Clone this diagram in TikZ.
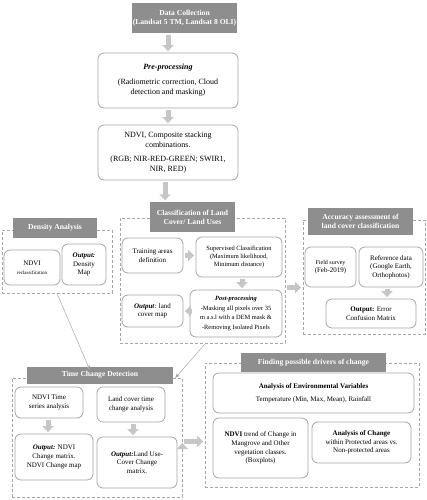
\documentclass[tikz,border=0pt]{standalone}
\usepackage{fontspec}
\setmainfont{Liberation Serif}
\usetikzlibrary{arrows.meta,positioning,calc}
\definecolor{headgray}{HTML}{8E8E8E}
\definecolor{boxgray}{HTML}{A6A6A6}
\definecolor{arrgray}{HTML}{C6C6C6}
\tikzset{
  head/.style={rectangle,fill=headgray,text=white,font=\fontsize{7.6}{9}\selectfont\bfseries,align=center,inner sep=1pt},
  box/.style={rectangle,rounded corners=6pt,draw=boxgray,line width=0.8pt,fill=white,align=center,inner sep=1pt,font=\fontsize{7}{8.6}\selectfont},
  frame/.style={rectangle,draw=boxgray,dashed,line width=0.7pt,dash pattern=on 3pt off 2pt},
  fat/.style={draw=arrgray,line width=5pt,-{Triangle[width=11pt,length=6pt,fill=arrgray]},shorten <=2pt,shorten >=1.5pt},
  thin/.style={draw=gray!70,line width=0.5pt,-{Stealth[length=5pt,width=4pt]}}
}
\begin{document}
\begin{tikzpicture}[x=1pt,y=-1pt]
  \useasboundingbox (0,0) rectangle (427,500);
  % dashed frames
  \node [frame,minimum width=110pt,minimum height=63pt] (D_F) at (57,261.5) {};
  \node [frame,minimum width=165pt,minimum height=125pt] (C_F) at (202.5,280.5) {};
  \node [frame,minimum width=122pt,minimum height=114pt] (A_F) at (364,277) {};
  \node [frame,minimum width=170pt,minimum height=119pt] (T_F) at (97,437.5) {};
  \node [frame,minimum width=214pt,minimum height=124pt] (F_F) at (312,425) {};
  % main chain
  \node [head,minimum width=105pt,minimum height=30pt] (Data) at (184.5,18) {Data Collection\\(Landsat 5 TM, Landsat 8 OLI)};
  \node [box,minimum width=140pt,minimum height=55pt,font=\fontsize{8}{10}\selectfont] (Pre) at (168,80.5) {\textbf{\textit{Pre-processing}}\\[5pt](Radiometric correction, Cloud\\detection and masking)};
  \node [box,minimum width=140pt,minimum height=55pt,font=\fontsize{8}{10}\selectfont] (NDVI) at (168,152.5) {NDVI, Composite stacking\\combinations.\\[4pt](RGB; NIR-RED-GREEN;\ SWIR1,\\NIR, RED)};
  % classification
  \node [head,minimum width=85pt,minimum height=30pt] (C_H) at (192.5,217) {Classification of Land\\Cover/ Land Uses};
  \node [box,minimum width=61pt,minimum height=35pt] (Train) at (152.5,255.5) {Training areas\\definition};
  \node [box,minimum width=86pt,minimum height=40pt,font=\fontsize{6.4}{8}\selectfont] (Sup) at (239,257) {Supervised Classification\\(Maximum likelihood,\\Minimum distance)};
  \node [box,minimum width=92pt,minimum height=47pt,font=\fontsize{6.4}{9.5}\selectfont] (Post) at (236,313.5) {\textbf{\textit{Post-processing}}\\-Masking all pixels over 35\\m a.s.l with a DEM mask \&\\-Removing Isolated Pixels};
  \node [box,minimum width=61pt,minimum height=32pt] (LC_Map) at (152.5,311) {\textbf{\textit{Output}}: land\\cover map};
  % density
  \node [head,minimum width=84pt,minimum height=20pt] (D_H) at (55,228) {Density Analysis};
  \node [box,minimum width=56pt,minimum height=35pt] (N_Rec) at (32,267.5) {NDVI\\{\fontsize{5}{6}\selectfont reclassification}};
  \node [box,minimum width=44pt,minimum height=41pt] (D_Map) at (84,264.5) {\textbf{\textit{Output:}}\\Density\\Map};
  % accuracy
  \node [head,minimum width=105pt,minimum height=27pt] (A_H) at (360.5,221.5) {Accuracy assessment of\\land cover classification};
  \node [box,minimum width=51pt,minimum height=40pt] (Field) at (330.5,267) {{\fontsize{6}{7}\selectfont Field survey}\\(Feb-2019)};
  \node [box,minimum width=64pt,minimum height=40pt] (Ref) at (391,267) {Reference data\\(Google Earth,\\Orthophotos)};
  \node [box,minimum width=90pt,minimum height=29pt] (Err) at (371,313.5) {\textbf{Output:} Error\\Confusion Matrix};
  % time change
  \node [head,minimum width=146pt,minimum height=17pt] (T_H) at (100,375) {Time Change Detection};
  \node [box,minimum width=68pt,minimum height=31pt] (N_TS) at (49,402.5) {NDVI Time\\series analysis};
  \node [box,minimum width=68pt,minimum height=35pt] (LC_TS) at (131,404.5) {Land cover time\\change analysis};
  \node [box,minimum width=78pt,minimum height=46pt] (N_Out) at (54,457) {\textbf{\textit{Output:}} NDVI\\Change matrix.\\NDVI Change map};
  \node [box,minimum width=80pt,minimum height=51pt] (LC_Out) at (137,462.5) {\textbf{\textit{Output:}}Land Use-\\Cover Change\\matrix.};
  % drivers
  \node [head,minimum width=145pt,minimum height=19pt] (F_H) at (313.5,362.5) {Finding possible drivers of change};
  \node [box,minimum width=201pt,minimum height=40pt] (Env) at (313.5,393) {\textbf{Analysis of Environmental Variables}\\[4pt]Temperature (Min, Max, Mean), Rainfall};
  \node [box,minimum width=95pt,minimum height=60pt] (Trend) at (260.5,448) {\textbf{NDVI} trend of Change in\\Mangrove and Other\\vegetation classes.\\(Boxplots)};
  \node [box,minimum width=99pt,minimum height=41pt] (Prot) at (361.5,442.5) {\textbf{Analysis of Change}\\within Protected areas vs.\\Non-protected areas};
  % block arrows
  \path[fat]
    (Pre.north |- Data.south) edge (Pre.north)
    (Pre.south) edge (NDVI.north)
    ([xshift=-3pt]NDVI.south) edge ([xshift=-3pt]NDVI.south |- C_H.north)
    (Train.east) edge (Sup.west |- Train.east)
    ([xshift=3pt]Sup.south) edge ([xshift=3pt]Sup.south |- Post.north)
    (Post.west |- LC_Map.east) edge (LC_Map.east)
    ([yshift=-7pt]C_F.east) edge ([yshift=-7pt]C_F.east -| A_F.west)
    ([xshift=-4pt]Ref.south) edge ([xshift=-4pt]Ref.south |- Err.north)
    ([xshift=-1pt]N_TS.south) edge ([xshift=-1pt]N_TS.south |- N_Out.north)
    ([xshift=2pt]LC_TS.south) edge ([xshift=2pt]LC_TS.south |- LC_Out.north)
    ([yshift=-4pt]T_F.east) edge ([yshift=-4pt]T_F.east -| F_F.west);
  % thin arrows
  \draw[thin] (D_F.south) -- ([xshift=-10pt,yshift=-4pt]T_H.north);
  \draw[thin] ([xshift=3pt]C_F.south) -- ([xshift=2pt,yshift=-3pt]T_H.east);
\end{tikzpicture}
\end{document}
